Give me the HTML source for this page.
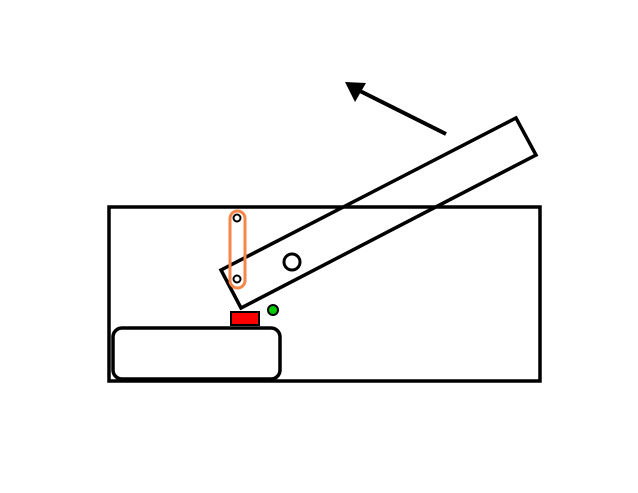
<!DOCTYPE html>
<html><head><style>html,body{margin:0;padding:0;background:#fff}svg{display:block}</style></head>
<body>
<svg width="638" height="493" viewBox="0 0 638 493" xmlns="http://www.w3.org/2000/svg">
<rect x="0" y="0" width="638" height="493" fill="#fff"/>
<rect x="109" y="207" width="431" height="174" fill="none" stroke="#000" stroke-width="3.5"/>
<rect x="113" y="328" width="167" height="51" rx="9" fill="#fff" stroke="#000" stroke-width="3.5"/>
<rect x="231" y="312" width="28" height="13" fill="#f00" stroke="#000" stroke-width="2"/>
<circle cx="273" cy="310" r="5" fill="#0c0" stroke="#000" stroke-width="2"/>
<polygon points="221,270 516,118 536,155 241,308" fill="none" stroke="#000" stroke-width="3.5"/>
<circle cx="292" cy="262" r="8" fill="none" stroke="#000" stroke-width="3"/>
<rect x="230" y="211" width="15" height="77" rx="7.5" fill="none" stroke="#f4864a" stroke-width="3"/>
<circle cx="237" cy="218" r="3.5" fill="#fff" stroke="#000" stroke-width="2"/>
<circle cx="237" cy="279" r="3.5" fill="#fff" stroke="#000" stroke-width="2"/>
<line x1="446" y1="134" x2="356" y2="89" stroke="#000" stroke-width="4"/>
<polygon points="345,82 366,83 355,102" fill="#000"/>
</svg>
</body></html>
